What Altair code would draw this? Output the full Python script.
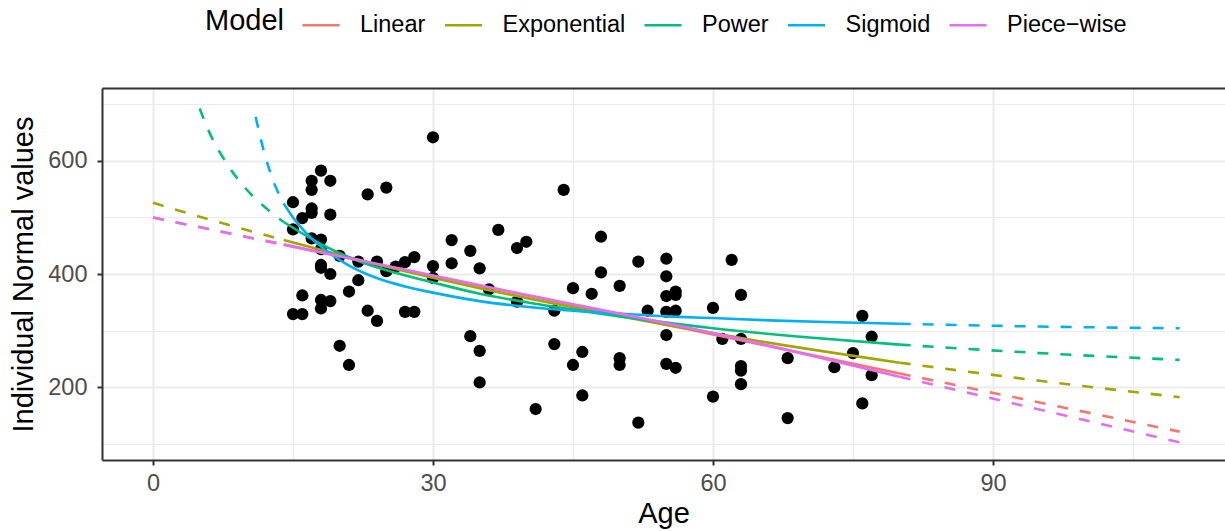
import altair as alt
import pandas as pd

# ---------------- data ----------------
models = ["Linear", "Exponential", "Power", "Sigmoid", "Piece-wise"]
colors = ["#F8766D", "#A3A500", "#00BF7D", "#00B0F6", "#E76BF3"]

pt_age = [15, 15, 15, 16, 16, 16, 17, 17, 17, 17, 17, 18, 18, 18, 18, 18, 18, 18,
          19, 19, 19, 19, 20, 20, 21, 21, 22, 22, 23, 23, 24, 24, 25, 25, 26, 27, 27,
          28, 28, 30, 30, 30, 32, 32, 34, 34, 35, 35, 35, 36, 37, 39, 39, 40, 41, 43,
          43, 44, 45, 45, 46, 46, 47, 48, 48, 50, 50, 50, 52, 52, 53, 55, 55, 55, 55,
          55, 55, 56, 56, 56, 56, 60, 60, 61, 62, 63, 63, 63, 63, 63, 68, 68, 73, 75,
          76, 76, 77, 77]
pt_val = [527, 479, 329, 499, 362, 329, 565, 549, 516, 508, 463, 583, 461, 444, 416,
          411, 354, 339, 565, 505, 400, 352, 432, 273, 369, 239, 422, 389, 541, 335,
          422, 317, 553, 405, 413, 421, 333, 430, 333, 642, 414, 393, 460, 419, 441,
          290, 410, 264, 208, 373, 478, 446, 351, 457, 161, 335, 276, 549, 375, 239,
          262, 185, 365, 466, 403, 379, 251, 239, 422, 137, 335, 427, 396, 361, 333,
          292, 241, 369, 363, 335, 234, 340, 183, 285, 425, 363, 285, 237, 229, 205,
          251, 145, 235, 260, 326, 171, 289, 221]

# fitted curves: left extrapolation (dashed), fitted range (solid), right extrapolation (dashed)
lin_age_l = [0, 14]
lin_val_l = [500, 452]
lin_age_m = [14, 80]
lin_val_m = [452, 224]
lin_age_r = [80, 110]
lin_val_r = [224, 121]

exp_age_l = [0, 7, 14]
exp_val_l = [526, 492, 460]
exp_age_m = [14, 25, 35, 45, 55, 65, 80]
exp_val_m = [460, 413, 375, 341, 310, 281, 243]
exp_age_r = [80, 95, 110]
exp_val_r = [243, 211, 182]

pow_age_l = [5, 6, 7, 8, 10, 12, 14]
pow_val_l = [693, 652, 620, 593, 550, 518, 492]
pow_age_m = [14, 18, 22, 26, 30, 35, 40, 45, 50, 60, 70, 80]
pow_val_m = [492, 453, 423, 402, 385, 365, 350, 337, 325, 304, 288, 275]
pow_age_r = [80, 95, 110]
pow_val_r = [275, 260, 248]

sig_age_l = [11, 12, 13, 14]
sig_val_l = [678, 610, 560, 525]
sig_age_m = [14, 15, 16, 17, 19, 21, 23, 25, 27, 30, 35, 40, 45, 50, 55, 60, 66, 72, 80]
sig_val_m = [525, 500, 480, 463, 436, 415, 399, 387, 378, 367, 352, 342, 335, 330,
             325, 322, 318, 315, 312]
sig_age_r = [80, 95, 110]
sig_val_r = [312, 307, 304]

pw_age_l = [0, 14]
pw_val_l = [500, 452]
pw_age_m = [14, 38, 62, 80]
pw_val_m = [452, 370, 288, 218]
pw_age_r = [80, 110]
pw_val_r = [218, 102]

curves = {
    "Linear": [(lin_age_l, lin_val_l), (lin_age_m, lin_val_m), (lin_age_r, lin_val_r)],
    "Exponential": [(exp_age_l, exp_val_l), (exp_age_m, exp_val_m), (exp_age_r, exp_val_r)],
    "Power": [(pow_age_l, pow_val_l), (pow_age_m, pow_val_m), (pow_age_r, pow_val_r)],
    "Sigmoid": [(sig_age_l, sig_val_l), (sig_age_m, sig_val_m), (sig_age_r, sig_val_r)],
    "Piece-wise": [(pw_age_l, pw_val_l), (pw_age_m, pw_val_m), (pw_age_r, pw_val_r)],
}

rows = []
for m, segs in curves.items():
    for seg_name, (ages, vals) in zip(["left", "mid", "right"], segs):
        for a, v in zip(ages, vals):
            rows.append({"Model": m, "Seg": seg_name, "Age": a, "Value": v})
lines_df = pd.DataFrame(rows)
points_df = pd.DataFrame({"Age": pt_age, "Value": pt_val})

# ---------------- styling ----------------
W, H = 1123, 372
FONT = "Liberation Sans"
LABEL_SIZE = 23.5
TITLE_SIZE = 29
x_scale = alt.Scale(domain=[-5.464, 114.86], nice=False, zero=False)
y_scale = alt.Scale(domain=[70.8, 729.2], nice=False, zero=False)

x_major = "datum.value % 30 == 0"
y_major = "datum.value % 200 == 0"

x_axis = alt.Axis(
    title="Age", values=[0, 15, 30, 45, 60, 75, 90, 105],
    labelExpr=f"{x_major} ? datum.label : ''",
    grid=True, gridColor="#ebebeb",
    gridWidth={"condition": {"test": x_major, "value": 2}, "value": 1},
    ticks=True, tickColor="#333333", tickWidth=2, tickSize=5,
    tickOpacity={"condition": {"test": x_major, "value": 1}, "value": 0},
    domain=True, domainColor="#333333", domainWidth=2,
    labelFontSize=LABEL_SIZE, labelColor="#4d4d4d", labelPadding=6, labelFont=FONT,
    titleFontSize=TITLE_SIZE, titleColor="black", titleFontWeight="normal",
    titlePadding=5, titleFont=FONT,
)
y_axis = alt.Axis(
    title="Individual Normal values", values=[100, 200, 300, 400, 500, 600, 700],
    labelExpr=f"{y_major} ? datum.label : ''",
    grid=True, gridColor="#ebebeb",
    gridWidth={"condition": {"test": y_major, "value": 2}, "value": 1},
    ticks=True, tickColor="#333333", tickWidth=2, tickSize=5,
    tickOpacity={"condition": {"test": y_major, "value": 1}, "value": 0},
    domain=True, domainColor="#333333", domainWidth=2,
    labelFontSize=LABEL_SIZE, labelColor="#4d4d4d", labelPadding=10, labelFont=FONT,
    titleFontSize=TITLE_SIZE, titleColor="black", titleFontWeight="normal",
    titlePadding=9, titleFont=FONT,
)
top_axis = alt.Axis(
    orient="top", labels=False, ticks=False, grid=False, domain=True,
    domainColor="#333333", domainWidth=2, title=None,
)

legend = alt.Legend(
    title="Model", orient="none", legendX=103, legendY=-83, direction="horizontal",
    titleOrient="left", titleAnchor="middle", titleBaseline="middle",
    titleFontSize=TITLE_SIZE, titleFontWeight="normal", titleColor="black",
    titleFont=FONT, labelFont=FONT, labelFontSize=LABEL_SIZE, labelColor="black",
    labelExpr="replace(datum.label, '-', '\u2212')",
    symbolType="stroke", symbolSize=1369, symbolStrokeWidth=2.6,
    labelOffset=19, columnPadding=13.5, titlePadding=17,
)
color_enc = alt.Color("Model:N", scale=alt.Scale(domain=models, range=colors), legend=legend)

points = alt.Chart(points_df).mark_circle(size=150, color="black", opacity=1).encode(
    x=alt.X("Age:Q", scale=x_scale, axis=x_axis),
    y=alt.Y("Value:Q", scale=y_scale, axis=y_axis),
)

layers = [points]
first = True
for m in models:
    for dashed in (False, True):
        segs = ["left", "right"] if dashed else ["mid"]
        mark_kw = dict(strokeWidth=2.6, interpolate="monotone")
        if dashed:
            mark_kw["strokeDash"] = [11, 12]
        xa = top_axis if first else None
        first = False
        layer = (
            alt.Chart(lines_df)
            .transform_filter(alt.FieldEqualPredicate(field="Model", equal=m))
            .transform_filter(alt.FieldOneOfPredicate(field="Seg", oneOf=segs))
            .mark_line(**mark_kw)
            .encode(
                x=alt.X("Age:Q", scale=x_scale, axis=xa),
                y=alt.Y("Value:Q", scale=y_scale, axis=None),
                color=color_enc,
                detail="Seg:N",
                order="Age:Q",
            )
        )
        layers.append(layer)

chart = (
    alt.layer(*layers)
    .resolve_axis(x="independent", y="independent")
    .properties(
        width=W, height=H,
        autosize=alt.AutoSizeParams(type="none"),
        padding={"left": 102, "top": 88, "right": 0, "bottom": 71},
        background="white",
    )
    .configure(font=FONT)
    .configure_view(stroke=None)
)

chart.save("out.html", embed_options={"renderer": "svg", "actions": False})
